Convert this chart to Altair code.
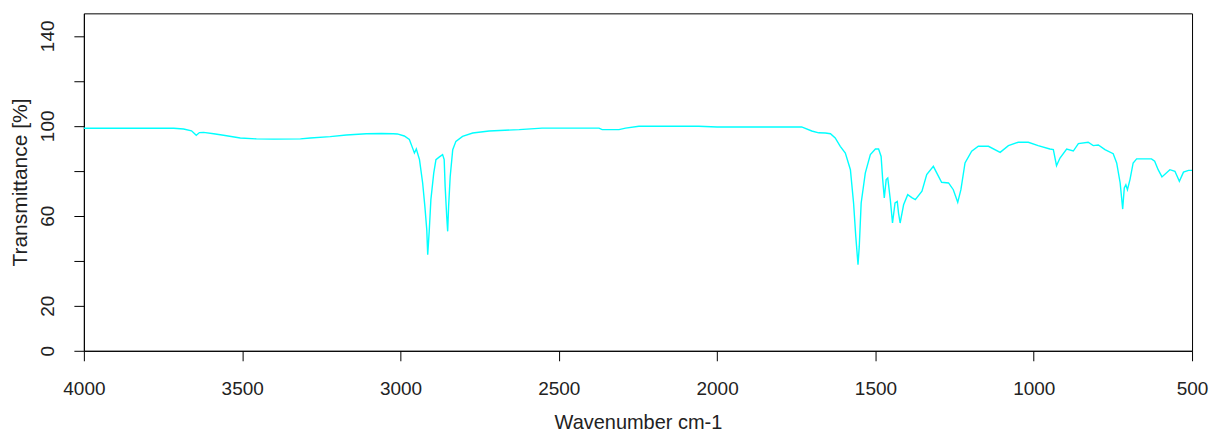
import altair as alt
import pandas as pd

wavenumber = [4000, 3800, 3716, 3685, 3660, 3645, 3635, 3622, 3590, 3559, 3506, 3455, 3400, 3316,
              3285, 3222, 3171, 3108, 3060, 3023, 3010, 2988, 2972, 2962, 2956, 2950, 2940, 2930,
              2923, 2917, 2914, 2909, 2904, 2895, 2888, 2877, 2867, 2862, 2859, 2854, 2851, 2848,
              2843, 2835, 2825, 2804, 2772, 2720, 2625, 2553, 2450, 2373, 2363, 2310, 2289, 2247,
              2150, 2058, 2000, 1850, 1733, 1701, 1679, 1658, 1642, 1627, 1611, 1595, 1579, 1569,
              1562, 1555, 1551, 1545, 1532, 1516, 1500, 1490, 1482, 1477, 1472, 1466, 1461, 1453,
              1446, 1438, 1431, 1427, 1422, 1411, 1398, 1385, 1374, 1353, 1338, 1317, 1291, 1269,
              1254, 1240, 1230, 1217, 1196, 1175, 1143, 1106, 1080, 1049, 1017, 986, 949, 938,
              928, 917, 896, 875, 859, 828, 812, 796, 775, 749, 738, 727, 719, 714, 709, 704, 696,
              686, 675, 628, 618, 607, 595, 570, 554, 540, 527, 511, 500]
transmittance = [98.9, 98.9, 98.9, 98.6, 97.8, 95.8, 97.0, 97.1, 96.5, 95.8, 94.6, 94.2, 94.1, 94.2,
                 94.6, 95.2, 95.9, 96.5, 96.6, 96.5, 96.4, 95.5, 93.9, 90.2, 87.9, 89.7, 85.0, 74.6,
                 64.2, 53.8, 42.7, 53.8, 67.2, 79.0, 85.0, 86.2, 87.2, 85.0, 73.1, 59.7, 53.1, 64.2,
                 77.5, 89.4, 93.1, 95.3, 96.8, 97.7, 98.3, 99.0, 99.0, 99.0, 98.3, 98.3, 99.0, 99.8,
                 99.8, 99.8, 99.5, 99.5, 99.5, 97.7, 96.9, 96.8, 96.5, 94.6, 90.9, 87.9, 80.5, 65.7,
                 50.8, 38.3, 46.4, 65.7, 79.0, 87.2, 89.7, 89.7, 86.4, 76.1, 67.9, 76.1, 76.8, 67.2,
                 56.8, 65.7, 66.4, 61.2, 56.8, 64.9, 69.4, 68.1, 67.2, 70.9, 78.3, 82.0, 74.9, 74.6,
                 71.6, 66.0, 71.6, 83.5, 88.7, 90.9, 90.9, 88.2, 91.2, 92.7, 92.7, 91.2, 89.7, 89.4,
                 82.3, 85.7, 89.7, 88.8, 92.1, 92.7, 91.2, 91.5, 89.4, 87.6, 83.5, 74.6, 63.0, 72.4,
                 73.8, 71.6, 76.1, 83.5, 85.3, 85.3, 84.3, 80.5, 77.3, 80.5, 79.8, 75.3, 79.4, 80.2,
                 80.2]

x_ticks = [4000, 3500, 3000, 2500, 2000, 1500, 1000, 500]
y_ticks = [0, 20, 40, 60, 80, 100, 120, 140]
y_hidden = [40, 80, 120]

df = pd.DataFrame({"wn": wavenumber, "t": transmittance})

FONT = "Liberation Sans"
TXT = "#222222"

hide_expr = " || ".join(f"datum.value == {v}" for v in y_hidden)

chart = alt.Chart(df).mark_line(color="#00FFFF", strokeWidth=1.4).encode(
    x=alt.X("wn:Q",
            scale=alt.Scale(domain=[500, 4000], reverse=True, nice=False, zero=False),
            axis=alt.Axis(values=x_ticks, format="d", title="Wavenumber cm-1", grid=False,
                          tickSize=10, tickColor="black", domainColor="black",
                          labelFont=FONT, labelFontSize=19, labelColor=TXT,
                          labelPadding=19, labelFlush=False, labelOverlap=False,
                          titleFont=FONT, titleFontSize=20, titleColor=TXT,
                          titleFontWeight="normal", titlePadding=14)),
    y=alt.Y("t:Q",
            scale=alt.Scale(domain=[0, 150], nice=False, zero=True),
            axis=alt.Axis(values=y_ticks, format="d", title="Transmittance [%]", grid=False,
                          tickSize=10, tickColor="black", domainColor="black",
                          labelExpr=f"({hide_expr}) ? '' : datum.label",
                          labelAngle=270, labelAlign="center", labelBaseline="bottom",
                          labelFont=FONT, labelFontSize=19, labelColor=TXT,
                          labelPadding=16, labelFlush=False, labelOverlap=False,
                          titleFont=FONT, titleFontSize=21, titleColor=TXT,
                          titleFontWeight="normal", titlePadding=8)),
).properties(
    width=1110,
    height=338,
    background="white",
    autosize=alt.AutoSizeParams(type="none"),
    padding={"left": 76, "top": 5, "right": 20, "bottom": 90},
).configure_view(
    stroke="black", strokeWidth=1
)

chart.save("out.html", embed_options={"renderer": "svg", "actions": False})
